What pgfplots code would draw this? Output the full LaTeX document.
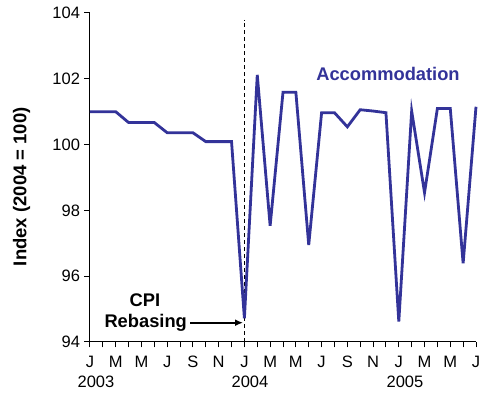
\documentclass[border=0pt]{standalone}
\usepackage{fontspec}
\setmainfont{Liberation Sans}
\usepackage{pgfplots}
\pgfplotsset{compat=1.18}
\usetikzlibrary{arrows.meta}
\definecolor{acc}{RGB}{51,51,153}
\begin{document}
\begin{tikzpicture}
\path[use as bounding box] (-90pt,-52pt) rectangle (390pt,342pt);
\begin{axis}[
  at={(0pt,0pt)}, anchor=south west,
  width=386pt, height=329pt, scale only axis,
  xmin=0, xmax=30, ymin=94, ymax=104,
  axis x line*=bottom, axis y line*=left,
  xtick={0,...,30},
  xticklabels={J,,M,,M,,J,,S,,N,,J,,M,,M,,J,,S,,N,,J,,M,,M,,J},
  ytick={94,96,...,104},
  tick align=outside, major tick length=5.5pt,
  tick style={black, line width=1pt},
  axis line style={black, line width=1pt},
  ticklabel style={font=\fontsize{16.5}{19}\selectfont},
  xticklabel style={yshift=-5pt},
  yticklabel style={xshift=-1pt},
  /pgf/number format/assume math mode=true,
  clip=false,
]
\addplot[black, line width=1.2pt, dash pattern=on 4pt off 3pt] coordinates {(12,94) (12,103.8)};
\addplot[acc, line width=2.8pt] coordinates {
(0,101.0) (1,101.0) (2,101.0) (3,100.67) (4,100.67) (5,100.67)
(6,100.36) (7,100.36) (8,100.36) (9,100.09) (10,100.09) (11,100.09)
(12,94.72) (13,102.12) (14,97.53) (15,101.59) (16,101.59) (17,96.95)
(18,100.97) (19,100.97) (20,100.54) (21,101.06) (22,101.02) (23,100.97)
(24,94.62) (25,101.02) (26,98.54) (27,101.1) (28,101.1) (29,96.39) (30,101.15)
};
\end{axis}
\node[font=\bfseries\fontsize{18.3}{21}\selectfont, text=acc] at (298pt,268pt) {Accommodation};
\node[font=\bfseries\fontsize{18.3}{21}\selectfont] at (55pt,41.3pt) {CPI};
\node[font=\bfseries\fontsize{18.3}{21}\selectfont] at (55.7pt,19pt) {Rebasing};
\draw[line width=1.8pt, -{Latex[length=8pt,width=7pt]}] (100pt,19.3pt) -- (153pt,19.3pt);
\node[font=\bfseries\fontsize{18.5}{21}\selectfont, rotate=90] at (-68.3pt,155.3pt) {Index (2004 = 100)};
\node[font=\fontsize{16.5}{19}\selectfont] at (6pt,-40pt) {2003};
\node[font=\fontsize{16.5}{19}\selectfont] at (160pt,-40pt) {2004};
\node[font=\fontsize{16.5}{19}\selectfont] at (315pt,-40pt) {2005};
\end{tikzpicture}
\end{document}
